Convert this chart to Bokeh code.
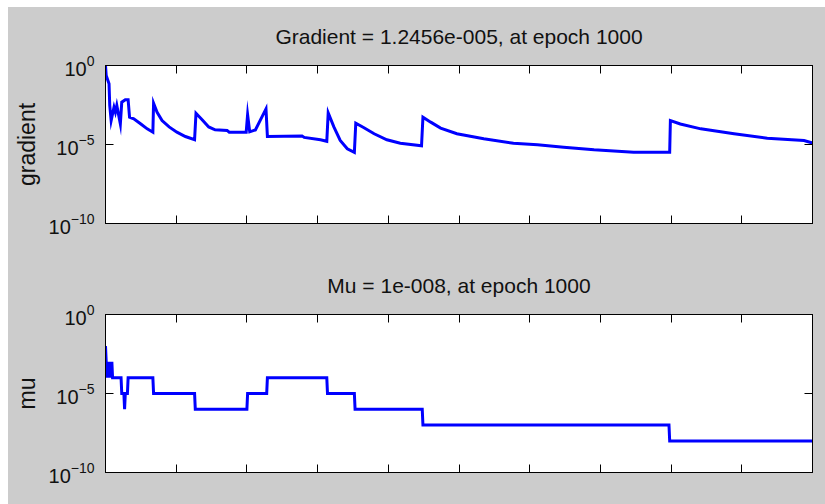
from bokeh.plotting import figure
from bokeh.models import (LogAxis, LinearAxis, FixedTicker, Range1d, Title,
                          CustomJSTickFormatter)
from bokeh.layouts import column
from bokeh.embed import file_html
from bokeh.resources import INLINE

# Training record: performance gradient per epoch
grad_epochs = [0, 1, 5, 6, 8, 12, 14, 16, 21, 23, 28, 32, 34, 40, 50, 59, 67,
               68, 73, 80, 90, 101, 113, 126, 128, 137, 146, 155, 172, 175, 199,
               201, 204, 212, 219, 227, 229, 278, 281, 304, 313, 315, 323, 332,
               342, 352, 354, 365, 380, 398, 417, 447, 449, 460, 474, 497, 535,
               577, 611, 648, 691, 747, 798, 799, 813, 842, 889, 936, 988, 1000]
gradient = [1.0, 2.3e-1, 6.9e-2, 3.0e-3, 3.3e-4, 2.3e-3, 1.1e-3, 3.0e-3, 2.0e-4,
            4.8e-3, 6.8e-3, 6.8e-3, 5.4e-4, 4.2e-4, 2.0e-4, 9.8e-5, 6.0e-5,
            4.1e-3, 1.1e-3, 3.3e-4, 1.3e-4, 6.0e-5, 3.2e-5, 2.0e-5, 9.5e-4,
            3.6e-4, 1.3e-4, 8.5e-5, 7.8e-5, 6.0e-5, 6.0e-5, 7.6e-4, 6.3e-5,
            8.3e-5, 3.5e-4, 1.8e-3, 3.2e-5, 3.5e-5, 2.8e-5, 2.0e-5, 1.6e-5,
            1.0e-3, 1.3e-4, 1.8e-5, 5.4e-6, 3.2e-6, 2.2e-4, 1.2e-4, 4.8e-5,
            2.0e-5, 1.2e-5, 8.3e-6, 5.4e-4, 2.6e-4, 1.1e-4, 4.8e-5, 2.3e-5,
            1.2e-5, 9.5e-6, 6.8e-6, 4.6e-6, 3.2e-6, 3.2e-6, 3.3e-4, 2.0e-4,
            9.8e-5, 4.8e-5, 2.5e-5, 1.8e-5, 1.2456e-5]

# Training record: Levenberg-Marquardt mu per epoch
mu_epochs = [0, 1, 2, 3, 4, 5, 6, 7, 8, 9, 10, 22, 23, 26, 27, 28, 31, 32, 67,
             68, 126, 127, 200, 201, 228, 229, 313, 314, 352, 353, 448, 449,
             797, 798, 1000]
mu = [1e-2, 1e-3, 1e-4, 1e-3, 1e-4, 1e-3, 1e-4, 1e-3, 1e-4, 1e-3, 1e-4, 1e-4,
      1e-5, 1e-5, 1e-6, 1e-5, 1e-5, 1e-4, 1e-4, 1e-5, 1e-5, 1e-6, 1e-6, 1e-5,
      1e-5, 1e-4, 1e-4, 1e-5, 1e-5, 1e-6, 1e-6, 1e-7, 1e-7, 1e-8, 1e-8]

x_ticks = [0, 100, 200, 300, 400, 500, 600, 700, 800, 900, 1000]
y_ticks = [1e-10, 1e-5, 1e0]

grad_title = "Gradient = 1.2456e-005, at epoch 1000"
mu_title = "Mu = 1e-008, at epoch 1000"

GRAY = "#CCCCCC"
FONT = "Liberation Sans"


def tick_axis(cls, ticker, labelled=False, **kw):
    ax = cls(ticker=ticker, axis_line_color="black", axis_line_width=1,
             major_tick_in=8, major_tick_out=0,
             major_tick_line_color="black", major_tick_line_width=1,
             minor_tick_in=0, minor_tick_out=0, minor_tick_line_color=None, **kw)
    if not labelled:
        # mirrored axis: ticks only
        ax.formatter = CustomJSTickFormatter(code="return ''")
        ax.major_label_text_font_size = "1px"
        ax.major_label_standoff = 0
    return ax


def panel(title, ylabel, xs, ys, height, top, bottom):
    p = figure(width=817, height=height, y_axis_type="log",
               x_range=Range1d(0, 1000), y_range=Range1d(1e-10, 1),
               x_axis_location=None, y_axis_location=None,
               output_backend="svg", toolbar_location=None,
               min_border_left=97, min_border_right=13,
               min_border_top=top, min_border_bottom=bottom,
               border_fill_color=GRAY, background_fill_color="white",
               outline_line_color="black", outline_line_width=1)
    p.grid.visible = False
    p.title = Title(text=title, align="center", vertical_align="top",
                    text_font=FONT, text_font_size="21px",
                    text_font_style="normal", text_color="#111111",
                    standoff=32)

    left = tick_axis(LogAxis, FixedTicker(ticks=y_ticks), labelled=True,
                     major_label_text_font=FONT,
                     major_label_text_font_size="20px",
                     major_label_text_color="#111111",
                     major_label_standoff=11,
                     axis_label=ylabel, axis_label_text_font=FONT,
                     axis_label_text_font_size="23px",
                     axis_label_text_font_style="normal",
                     axis_label_text_color="#111111",
                     axis_label_standoff=6)
    right = tick_axis(LogAxis, FixedTicker(ticks=y_ticks))
    below = tick_axis(LinearAxis, FixedTicker(ticks=x_ticks))
    above = tick_axis(LinearAxis, FixedTicker(ticks=x_ticks))
    p.add_layout(left, "left")
    p.add_layout(right, "right")
    p.add_layout(below, "below")
    p.add_layout(above, "above")

    p.line(xs, ys, line_color="#0000FF", line_width=3, line_join="miter")
    return p


p1 = panel(grad_title, "gradient", grad_epochs, gradient, 249, 58, 33)
p2 = panel(mu_title, "mu", mu_epochs, mu, 248, 58, 32)

layout = column(p1, p2, spacing=0, margin=(7, 0, 0, 8),
                styles={"background-color": GRAY})
open("out.html", "w").write(file_html(layout, INLINE))
